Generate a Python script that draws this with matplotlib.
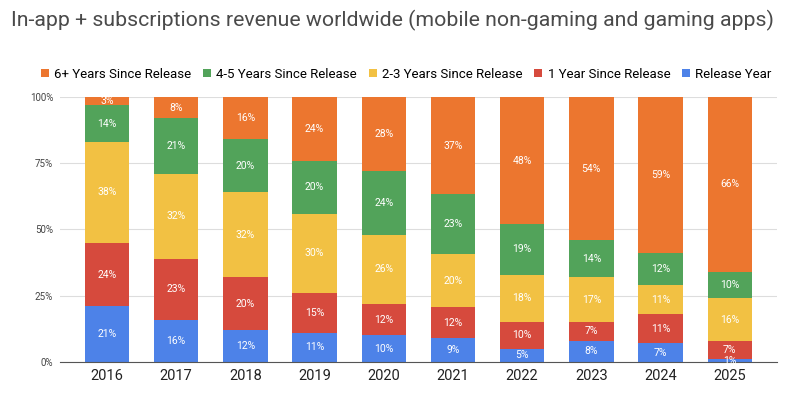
import numpy as np
import matplotlib
matplotlib.use("Agg")
import matplotlib.pyplot as plt

# =========================
# DATA
# =========================
years = ["2016", "2017", "2018", "2019", "2020", "2021", "2022", "2023", "2024", "2025"]
release_year = [21, 16, 12, 11, 10, 9, 5, 8, 7, 1]
one_year = [24, 23, 20, 15, 12, 12, 10, 7, 11, 7]
two_three = [38, 32, 32, 30, 26, 20, 18, 17, 11, 16]
four_five = [14, 21, 20, 20, 24, 23, 19, 14, 12, 10]
six_plus = [3, 8, 16, 24, 28, 37, 48, 54, 59, 66]

series = [
    ("Release Year", release_year, "#4d82e8"),
    ("1 Year Since Release", one_year, "#d64a3d"),
    ("2-3 Years Since Release", two_three, "#f2c143"),
    ("4-5 Years Since Release", four_five, "#52a35a"),
    ("6+ Years Since Release", six_plus, "#ec762f"),
]

plt.rcParams["font.family"] = ["Roboto", "DejaVu Sans"]

# =========================
# PLOT
# =========================
fig = plt.figure(figsize=(8, 3.96), dpi=100)
ax = fig.add_axes([0.075, 0.086, 0.896, 0.669])

x = np.arange(len(years))
totals = np.sum([s[1] for s in series], axis=0)
bottom = np.zeros(len(years))
handles = []
for name, vals, color in series:
    share = np.array(vals) / totals
    bars = ax.bar(x, share, 0.64, bottom=bottom, color=color, label=name, zorder=2)
    handles.append(bars)
    for xi, b, h, v in zip(x, bottom, share, vals):
        ax.text(xi, b + h / 2, f"{v}%", ha="center", va="center",
                color="white", fontsize=7.5, zorder=3)
    bottom += share

ax.set_xlim(-0.68, 9.68)
ax.set_ylim(0, 1)
ax.set_xticks(x)
ax.set_xticklabels(years, fontsize=10.5, color="#222222")
ax.set_yticks([0, 0.25, 0.5, 0.75, 1.0])
ax.set_yticklabels(["0%", "25%", "50%", "75%", "100%"], fontsize=7, color="#444444")
ax.tick_params(length=0, pad=5)
ax.grid(axis="y", color="#dddddd", linewidth=0.8, zorder=0)
for side in ["top", "right", "left"]:
    ax.spines[side].set_visible(False)
ax.spines["bottom"].set_color("#555555")

fig.text(0.014, 0.948, "In-app + subscriptions revenue worldwide (mobile non-gaming and gaming apps)",
         fontsize=15.3, color="#4a4a4a", va="center", ha="left")

fig.legend(handles[::-1], [s[0] for s in series][::-1], loc="center",
           bbox_to_anchor=(0.508, 0.813), ncol=5, frameon=False, fontsize=9.5,
           handlelength=0.6, handleheight=0.6, handletextpad=0.4, columnspacing=0.9)

fig.savefig("out.png", dpi=100)
